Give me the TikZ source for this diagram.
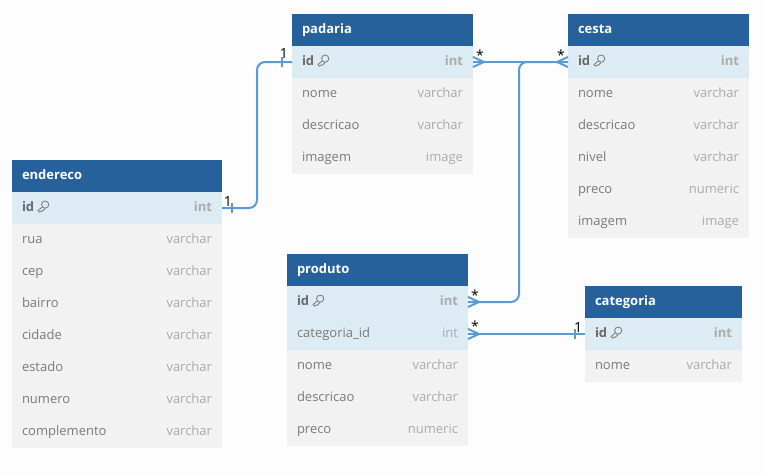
\documentclass[tikz,border=0pt]{standalone}
\usepackage{fontspec}
\setmainfont{Open Sans}
\usetikzlibrary{positioning}

\definecolor{headblue}{HTML}{26619C}
\definecolor{pkblue}{HTML}{DCEBF4}
\definecolor{rowgray}{HTML}{F2F2F2}
\definecolor{pagegray}{HTML}{FDFDFD}
\definecolor{namegray}{HTML}{7A7A7A}
\definecolor{idgray}{HTML}{696969}
\definecolor{typegray}{HTML}{ABABAB}
\definecolor{relblue}{HTML}{5B9AD3}

\tikzset{
    rowbox/.style={minimum height=24pt,inner xsep=7.5pt,inner ysep=0pt,outer sep=0pt,
        text height=7.5pt,text depth=2pt,font=\fontsize{9.75pt}{12pt}\selectfont,
        execute at begin node={\def\namecol{namegray}}},
    plainrow/.style={rowbox,fill=rowgray},
    fkrow/.style={rowbox,fill=pkblue},
    pkrow/.style={rowbox,fill=pkblue,font=\fontsize{9.75pt}{12pt}\selectfont\bfseries,
        execute at begin node={\def\namecol{idgray}}},
    headbox/.style={rowbox,fill=headblue,text=white,font=\fontsize{9.75pt}{12pt}\selectfont\bfseries},
    keyline/.style={draw=namegray,line width=0.6pt},
    relline/.style={draw=relblue,line width=1.5pt,rounded corners=6pt},
    cardmark/.style={inner sep=0pt,outer sep=0pt,text=black,font=\fontsize{10.5pt}{12pt}\selectfont}
}

% #1 name, #2 left, #3 top, #4 width, #5 rows
\newcommand{\dbtable}[5]{
    \pgfmathsetlengthmacro{\colwd}{(#4-20)*0.75pt}
    \node[headbox,anchor=north west,text width=\colwd] (#1) at (#2,#3) {#1};
    \foreach \col/\typ/\kind [remember=\col as \prev (initially {})] in {#5} {
        \ifx\prev\empty\def\above{#1}\else\def\above{#1_\prev}\fi
        \node[\kind,text width=\colwd,below=0pt of \above] (#1_\col)
            {\textcolor{\namecol}{\expandafter\detokenize\expandafter{\col}}\hfill\textcolor{typegray}{\typ}};
    }
    % key beside the id
    \draw[keyline] (#1_id.west) ++(33.2,-3.4) circle (3.6);
    \draw[keyline] (#1_id.west) ++(30.4,-1.2) -- ++(-4.4,3.8) -- ++(1.6,1.6) -- ++(1.4,-1.2) -- ++(1,0.4) -- ++(3.2,-3);
}
% crow's foot, #2 = direction
\newcommand{\manyend}[2]{
    \draw[relline,rounded corners=0pt] (#1) ++(0,-5) -- ++(#2,5) -- ++(-#2,5);
}
% single bar
\newcommand{\oneend}[2]{
    \draw[relline,rounded corners=0pt,line width=1.2pt] (#1) ++(#2,-5) -- ++(0,10);
}

\begin{document}
\begin{tikzpicture}[x=0.75pt,y=-0.75pt,node distance=0pt]
    \fill[pagegray] (0,0) rectangle (765,475);
    \useasboundingbox (0,0) rectangle (765,475);

    \dbtable{padaria}{292}{14}{181}{id/int/pkrow,nome/varchar/plainrow,descricao/varchar/plainrow,imagem/image/plainrow}
    \dbtable{cesta}{568}{14}{181}{id/int/pkrow,nome/varchar/plainrow,descricao/varchar/plainrow,nivel/varchar/plainrow,preco/numeric/plainrow,imagem/image/plainrow}
    \dbtable{endereco}{12}{160}{210}{id/int/pkrow,rua/varchar/plainrow,cep/varchar/plainrow,bairro/varchar/plainrow,cidade/varchar/plainrow,estado/varchar/plainrow,numero/varchar/plainrow,complemento/varchar/plainrow}
    \dbtable{produto}{287}{254}{181}{id/int/pkrow,categoria_id/int/fkrow,nome/varchar/plainrow,descricao/varchar/plainrow,preco/numeric/plainrow}
    \dbtable{categoria}{585}{286}{157}{id/int/pkrow,nome/varchar/plainrow}

    \coordinate (turn_a) at (257,100);
    \coordinate (turn_b) at (519,100);

    \draw[relline] (endereco_id.east) -| (turn_a) |- (padaria_id.west);
    \draw[relline] (padaria_id.east) -- (cesta_id.west);
    \draw[relline] (produto_id.east) -| (turn_b) |- (cesta_id.west);
    \draw[relline] (produto_categoria_id.east) -- (categoria_id.west);

    \manyend{padaria_id.east}{11}
    \manyend{cesta_id.west}{-11}
    \manyend{produto_id.east}{11}
    \manyend{produto_categoria_id.east}{11}
    \oneend{endereco_id.east}{10}
    \oneend{padaria_id.west}{-10}
    \oneend{categoria_id.west}{-10}

    \node[cardmark] (star_a) at (480,55) {*};
    \node[cardmark] (star_b) at (561,55) {*};
    \node[cardmark] (star_c) at (475,295) {*};
    \node[cardmark] (star_d) at (475,326) {*};
    \node[cardmark] (one_a) at (228,201) {1};
    \node[cardmark] (one_b) at (284,54) {1};
    \node[cardmark] (one_c) at (578,327) {1};
\end{tikzpicture}
\end{document}
